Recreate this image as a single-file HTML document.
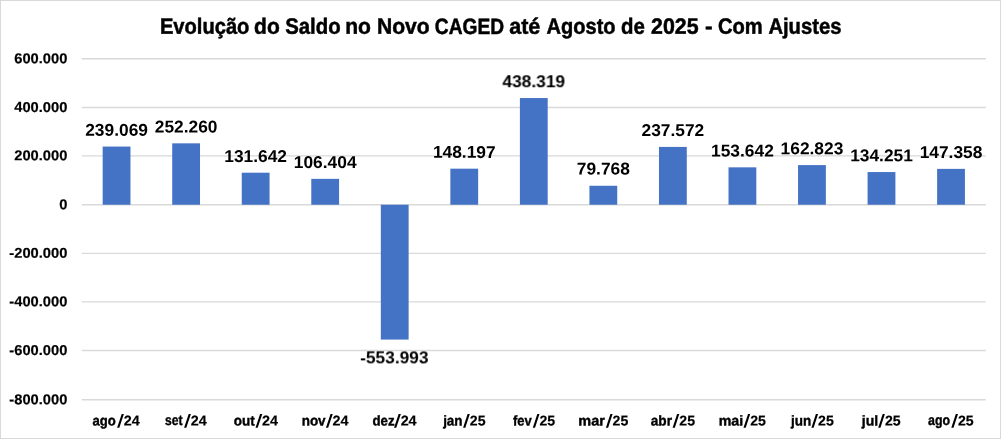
<!DOCTYPE html>
<html><head><meta charset="utf-8"><title>Novo CAGED</title>
<style>html,body{margin:0;padding:0;background:#fff;}svg{display:block;}text{font-family:"Liberation Sans",sans-serif;font-weight:bold;fill:#000;}</style></head><body>
<svg width="1001" height="439" viewBox="0 0 1001 439">
<rect x="0" y="0" width="1001" height="439" fill="#ffffff"/>
<rect x="0.5" y="0.5" width="1000" height="438" fill="none" stroke="#d9d9d9" stroke-width="1"/>
<line x1="81.8" y1="58.74" x2="985.8" y2="58.74" stroke="#d9d9d9" stroke-width="1.4"/>
<line x1="81.8" y1="107.45" x2="985.8" y2="107.45" stroke="#d9d9d9" stroke-width="1.4"/>
<line x1="81.8" y1="155.90" x2="985.8" y2="155.90" stroke="#d9d9d9" stroke-width="1.4"/>
<line x1="81.8" y1="204.74" x2="985.8" y2="204.74" stroke="#d9d9d9" stroke-width="1.4"/>
<line x1="81.8" y1="253.40" x2="985.8" y2="253.40" stroke="#d9d9d9" stroke-width="1.4"/>
<line x1="81.8" y1="301.87" x2="985.8" y2="301.87" stroke="#d9d9d9" stroke-width="1.4"/>
<line x1="81.8" y1="350.47" x2="985.8" y2="350.47" stroke="#d9d9d9" stroke-width="1.4"/>
<line x1="81.8" y1="399.76" x2="985.8" y2="399.76" stroke="#d9d9d9" stroke-width="1.4"/>
<rect x="102.67" y="146.55" width="27.8" height="58.19" fill="#4472c4"/>
<rect x="172.21" y="143.34" width="27.8" height="61.40" fill="#4472c4"/>
<rect x="241.75" y="172.70" width="27.8" height="32.04" fill="#4472c4"/>
<rect x="311.28" y="178.84" width="27.8" height="25.90" fill="#4472c4"/>
<rect x="380.82" y="204.74" width="27.8" height="134.84" fill="#4472c4"/>
<rect x="450.36" y="168.67" width="27.8" height="36.07" fill="#4472c4"/>
<rect x="519.90" y="98.05" width="27.8" height="106.69" fill="#4472c4"/>
<rect x="589.44" y="185.77" width="27.8" height="18.97" fill="#4472c4"/>
<rect x="658.98" y="146.91" width="27.8" height="57.83" fill="#4472c4"/>
<rect x="728.52" y="167.34" width="27.8" height="37.40" fill="#4472c4"/>
<rect x="798.05" y="165.11" width="27.8" height="39.63" fill="#4472c4"/>
<rect x="867.59" y="172.06" width="27.8" height="32.68" fill="#4472c4"/>
<rect x="937.13" y="168.87" width="27.8" height="35.87" fill="#4472c4"/>
<defs><filter id="soft" x="-2%" y="-2%" width="104%" height="104%"><feGaussianBlur stdDeviation="0.3"/></filter></defs><g filter="url(#soft)">
<text stroke="#000" stroke-width="0.2" transform="translate(67.4,63.19) rotate(0.03) scale(1.028,1)" font-size="14.3" text-anchor="end">600.000</text>
<text stroke="#000" stroke-width="0.2" transform="translate(67.4,111.90) rotate(0.03) scale(1.028,1)" font-size="14.3" text-anchor="end">400.000</text>
<text stroke="#000" stroke-width="0.2" transform="translate(67.4,160.35) rotate(0.03) scale(1.028,1)" font-size="14.3" text-anchor="end">200.000</text>
<text stroke="#000" stroke-width="0.2" transform="translate(67.4,209.19) rotate(0.03) scale(1.028,1)" font-size="14.3" text-anchor="end">0</text>
<text stroke="#000" stroke-width="0.2" transform="translate(67.4,257.85) rotate(0.03) scale(1.028,1)" font-size="14.3" text-anchor="end">-200.000</text>
<text stroke="#000" stroke-width="0.2" transform="translate(67.4,306.32) rotate(0.03) scale(1.028,1)" font-size="14.3" text-anchor="end">-400.000</text>
<text stroke="#000" stroke-width="0.2" transform="translate(67.4,354.92) rotate(0.03) scale(1.028,1)" font-size="14.3" text-anchor="end">-600.000</text>
<text stroke="#000" stroke-width="0.2" transform="translate(67.4,404.21) rotate(0.03) scale(1.028,1)" font-size="14.3" text-anchor="end">-800.000</text>
<text stroke="#000" stroke-width="0.4" transform="translate(92.54,425.40) rotate(0.03) scale(0.9155,1)" font-size="14.3">ago</text>
<text stroke="#000" stroke-width="0.2" transform="translate(123.70,425.40) rotate(0.03) scale(1.0033,1)" font-size="14.3">24</text>
<polygon points="117.10,427.8 119.30,427.8 123.90,414.1 121.70,414.1" fill="#000"/>
<text stroke="#000" stroke-width="0.4" transform="translate(164.97,425.40) rotate(0.03) scale(0.8500,1)" font-size="14.3">set</text>
<text stroke="#000" stroke-width="0.2" transform="translate(190.70,425.40) rotate(0.03) scale(1.0033,1)" font-size="14.3">24</text>
<polygon points="184.10,427.8 186.30,427.8 190.90,414.1 188.70,414.1" fill="#000"/>
<text stroke="#000" stroke-width="0.4" transform="translate(233.73,425.40) rotate(0.03) scale(0.9395,1)" font-size="14.3">out</text>
<text stroke="#000" stroke-width="0.2" transform="translate(262.10,425.40) rotate(0.03) scale(1.0033,1)" font-size="14.3">24</text>
<polygon points="255.50,427.8 257.70,427.8 262.30,414.1 260.10,414.1" fill="#000"/>
<text stroke="#000" stroke-width="0.4" transform="translate(301.66,425.40) rotate(0.03) scale(0.9423,1)" font-size="14.3">nov</text>
<text stroke="#000" stroke-width="0.2" transform="translate(332.55,425.40) rotate(0.03) scale(1.0033,1)" font-size="14.3">24</text>
<polygon points="325.95,427.8 328.15,427.8 332.75,414.1 330.55,414.1" fill="#000"/>
<text stroke="#000" stroke-width="0.4" transform="translate(372.44,425.40) rotate(0.03) scale(0.9275,1)" font-size="14.3">dez</text>
<text stroke="#000" stroke-width="0.2" transform="translate(400.65,425.40) rotate(0.03) scale(1.0033,1)" font-size="14.3">24</text>
<polygon points="394.05,427.8 396.25,427.8 400.85,414.1 398.65,414.1" fill="#000"/>
<text stroke="#000" stroke-width="0.4" transform="translate(443.13,425.40) rotate(0.03) scale(0.9400,1)" font-size="14.3">jan</text>
<text stroke="#000" stroke-width="0.2" transform="translate(469.81,425.40) rotate(0.03) scale(0.9867,1)" font-size="14.3">25</text>
<polygon points="463.10,427.8 465.30,427.8 469.80,414.1 467.60,414.1" fill="#000"/>
<text stroke="#000" stroke-width="0.4" transform="translate(512.97,425.40) rotate(0.03) scale(0.9086,1)" font-size="14.3">fev</text>
<text stroke="#000" stroke-width="0.2" transform="translate(539.51,425.40) rotate(0.03) scale(0.9867,1)" font-size="14.3">25</text>
<polygon points="532.80,427.8 535.00,427.8 539.50,414.1 537.30,414.1" fill="#000"/>
<text stroke="#000" stroke-width="0.4" transform="translate(578.29,425.40) rotate(0.03) scale(1.0120,1)" font-size="14.3">mar</text>
<text stroke="#000" stroke-width="0.2" transform="translate(612.61,425.40) rotate(0.03) scale(0.9867,1)" font-size="14.3">25</text>
<polygon points="605.90,427.8 608.10,427.8 612.60,414.1 610.40,414.1" fill="#000"/>
<text stroke="#000" stroke-width="0.4" transform="translate(650.72,425.40) rotate(0.03) scale(0.9535,1)" font-size="14.3">abr</text>
<text stroke="#000" stroke-width="0.2" transform="translate(679.31,425.40) rotate(0.03) scale(0.9867,1)" font-size="14.3">25</text>
<polygon points="672.60,427.8 674.80,427.8 679.30,414.1 677.10,414.1" fill="#000"/>
<text stroke="#000" stroke-width="0.4" transform="translate(718.71,425.40) rotate(0.03) scale(0.9934,1)" font-size="14.3">mai</text>
<text stroke="#000" stroke-width="0.2" transform="translate(750.21,425.40) rotate(0.03) scale(0.9867,1)" font-size="14.3">25</text>
<polygon points="743.50,427.8 745.70,427.8 750.20,414.1 748.00,414.1" fill="#000"/>
<text stroke="#000" stroke-width="0.4" transform="translate(790.94,425.40) rotate(0.03) scale(0.9446,1)" font-size="14.3">jun</text>
<text stroke="#000" stroke-width="0.2" transform="translate(818.11,425.40) rotate(0.03) scale(0.9867,1)" font-size="14.3">25</text>
<polygon points="811.40,427.8 813.60,427.8 818.10,414.1 815.90,414.1" fill="#000"/>
<text stroke="#000" stroke-width="0.4" transform="translate(861.75,425.40) rotate(0.03) scale(0.9812,1)" font-size="14.3">jul</text>
<text stroke="#000" stroke-width="0.2" transform="translate(884.91,425.40) rotate(0.03) scale(0.9867,1)" font-size="14.3">25</text>
<polygon points="878.20,427.8 880.40,427.8 884.90,414.1 882.70,414.1" fill="#000"/>
<text stroke="#000" stroke-width="0.4" transform="translate(928.07,425.40) rotate(0.03) scale(0.8660,1)" font-size="14.3">ago</text>
<text stroke="#000" stroke-width="0.2" transform="translate(958.01,425.40) rotate(0.03) scale(0.9867,1)" font-size="14.3">25</text>
<polygon points="951.30,427.8 953.50,427.8 958.00,414.1 955.80,414.1" fill="#000"/>
<text transform="translate(116.57,135.75) rotate(0.03) scale(1.012,1)" font-size="17.15" text-anchor="middle">239.069</text>
<text transform="translate(186.11,132.54) rotate(0.03) scale(1.012,1)" font-size="17.15" text-anchor="middle">252.260</text>
<text transform="translate(255.65,161.90) rotate(0.03) scale(1.012,1)" font-size="17.15" text-anchor="middle">131.642</text>
<text transform="translate(325.18,168.04) rotate(0.03) scale(1.012,1)" font-size="17.15" text-anchor="middle">106.404</text>
<text transform="translate(394.32,363.38) rotate(0.03) scale(1.012,1)" font-size="17.15" text-anchor="middle">-553.993</text>
<text transform="translate(464.26,157.87) rotate(0.03) scale(1.012,1)" font-size="17.15" text-anchor="middle">148.197</text>
<text transform="translate(533.80,87.25) rotate(0.03) scale(1.012,1)" font-size="17.15" text-anchor="middle">438.319</text>
<text transform="translate(603.34,174.52) rotate(0.03) scale(1.012,1)" font-size="17.15" text-anchor="middle">79.768</text>
<text transform="translate(672.88,136.11) rotate(0.03) scale(1.012,1)" font-size="17.15" text-anchor="middle">237.572</text>
<text transform="translate(742.42,156.54) rotate(0.03) scale(1.012,1)" font-size="17.15" text-anchor="middle">153.642</text>
<text transform="translate(811.95,154.31) rotate(0.03) scale(1.012,1)" font-size="17.15" text-anchor="middle">162.823</text>
<text transform="translate(881.49,161.26) rotate(0.03) scale(1.012,1)" font-size="17.15" text-anchor="middle">134.251</text>
<text transform="translate(951.03,158.07) rotate(0.03) scale(1.012,1)" font-size="17.15" text-anchor="middle">147.358</text>
<text stroke="#000" stroke-width="0.5" transform="translate(159.89,33.70) rotate(0.03) scale(0.9070,1)" font-size="22.2">Evolução</text>
<text stroke="#000" stroke-width="0.5" transform="translate(254.10,33.70) rotate(0.03) scale(0.9465,1)" font-size="22.2">do</text>
<text stroke="#000" stroke-width="0.5" transform="translate(285.16,33.70) rotate(0.03) scale(0.9174,1)" font-size="22.2">Saldo</text>
<text stroke="#000" stroke-width="0.5" transform="translate(345.23,33.70) rotate(0.03) scale(0.9495,1)" font-size="22.2">no</text>
<text stroke="#000" stroke-width="0.5" transform="translate(377.03,33.70) rotate(0.03) scale(0.9491,1)" font-size="22.2">Novo</text>
<text stroke="#000" stroke-width="0.5" transform="translate(434.79,33.70) rotate(0.03) scale(0.8639,1)" font-size="22.2">CAGED</text>
<text stroke="#000" stroke-width="0.5" transform="translate(509.22,33.70) rotate(0.03) scale(0.9705,1)" font-size="22.2">até</text>
<text stroke="#000" stroke-width="0.5" transform="translate(546.60,33.70) rotate(0.03) scale(0.9027,1)" font-size="22.2">Agosto</text>
<text stroke="#000" stroke-width="0.5" transform="translate(620.93,33.70) rotate(0.03) scale(0.9196,1)" font-size="22.2">de</text>
<text stroke="#000" stroke-width="0.5" transform="translate(651.03,33.70) rotate(0.03) scale(0.9625,1)" font-size="22.2">2025</text>
<text stroke="#000" stroke-width="0.5" transform="translate(704.88,33.70) rotate(0.03) scale(1.0261,1)" font-size="22.2">-</text>
<text stroke="#000" stroke-width="0.5" transform="translate(717.94,33.70) rotate(0.03) scale(0.9064,1)" font-size="22.2">Com</text>
<text stroke="#000" stroke-width="0.5" transform="translate(768.39,33.70) rotate(0.03) scale(0.9117,1)" font-size="22.2">Ajustes</text>
</g></svg></body></html>
